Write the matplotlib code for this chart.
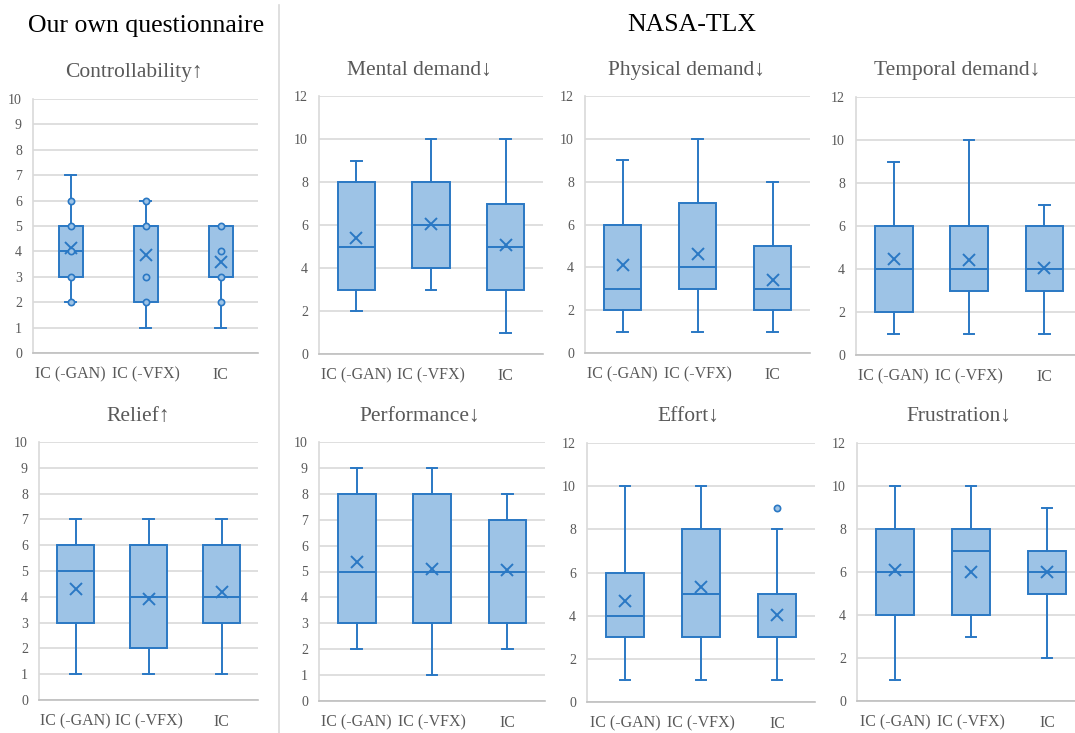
import matplotlib
matplotlib.use("Agg")
import matplotlib.pyplot as plt

plt.rcParams['font.family'] = ['Liberation Serif', 'DejaVu Serif']

W, H = 1075, 733

groups = ["IC (-GAN)", "IC (-VFX)", "IC"]

# one entry per panel: title, y max, y step
titles = ["Controllability\u2191", "Mental demand\u2193", "Physical demand\u2193", "Temporal demand\u2193",
          "Relief\u2191", "Performance\u2193", "Effort\u2193", "Frustration\u2193"]
ymax = [10, 12, 12, 12, 10, 10, 12, 12]
ystep = [1, 2, 2, 2, 1, 1, 2, 2]

# box stats per panel, per group (GAN, VFX, IC)
whislo = [[2, 1, 1], [2, 3, 1], [1, 1, 1], [1, 1, 1], [1, 1, 1], [2, 1, 2], [1, 1, 1], [1, 3, 2]]
q1 = [[3, 2, 3], [3, 4, 3], [2, 3, 2], [2, 3, 3], [3, 2, 3], [3, 3, 3], [3, 3, 3], [4, 4, 5]]
med = [[4, 5, 3], [5, 6, 5], [3, 4, 3], [4, 4, 4], [5, 4, 4], [5, 5, 5], [4, 5, 3], [6, 7, 6]]
q3 = [[5, 5, 5], [8, 8, 7], [6, 7, 5], [6, 6, 6], [6, 6, 6], [8, 8, 7], [6, 8, 5], [8, 8, 7]]
whishi = [[7, 6, 5], [9, 10, 10], [9, 10, 8], [9, 10, 7], [7, 7, 7], [9, 9, 8], [10, 10, 8], [10, 10, 9]]
means = [[4.15, 3.85, 3.6], [5.4, 6.05, 5.05], [4.1, 4.6, 3.4], [4.45, 4.4, 4.05],
         [4.3, 3.9, 4.2], [5.35, 5.1, 5.05], [4.7, 5.35, 4.05], [6.1, 6.0, 6.0]]
outliers = [[[], [], []], [[], [], []], [[], [], []], [[], [], []],
            [[], [], []], [[], [], []], [[], [], [9]], [[], [], []]]
# inner points only shown in the controllability chart
inner = [[[2, 3, 4, 5, 6], [2, 3, 5, 6], [2, 3, 4, 5]]] + [[[], [], []]] * 7

# axes rectangles in pixels: left, right, top, bottom
rects = [(33, 258, 99, 353), (319, 543, 96, 354), (585, 810, 96, 353), (856, 1082, 97, 355),
         (39, 258, 442, 700), (319, 545, 442, 701), (587, 815, 443, 702), (857, 1085, 443, 701)]
title_pos = [(134, 72), (419, 71), (686, 71), (957, 71), (138, 417), (420, 417), (688, 417), (959, 417)]
box_w = [0.32, 0.5, 0.5, 0.5, 0.5, 0.5, 0.5, 0.5]

fill = '#9DC3E6'
edge = '#2A78C4'
grey = '#595959'

fig = plt.figure(figsize=(W / 100, H / 100), dpi=100)

for i in range(8):
    l, r, t, b = rects[i]
    ax = fig.add_axes([l / W, 1 - b / H, (r - l) / W, (b - t) / H])
    stats = []
    for j in range(3):
        stats.append(dict(whislo=whislo[i][j], q1=q1[i][j], med=med[i][j], q3=q3[i][j],
                          whishi=whishi[i][j], mean=means[i][j], fliers=outliers[i][j]))
    ax.bxp(stats, positions=[1, 2, 3], widths=box_w[i], capwidths=0.14, patch_artist=True,
           showmeans=True,
           boxprops=dict(facecolor=fill, edgecolor=edge, linewidth=1.4),
           medianprops=dict(color=edge, linewidth=1.4),
           whiskerprops=dict(color=edge, linewidth=1.4),
           capprops=dict(color=edge, linewidth=1.4),
           meanprops=dict(marker='x', markeredgecolor=edge, markersize=9, markeredgewidth=1.4),
           flierprops=dict(marker='o', markerfacecolor=fill, markeredgecolor=edge, markersize=4.5,
                           markeredgewidth=1.2))
    for j in range(3):
        if inner[i][j]:
            ax.plot([j + 1] * len(inner[i][j]), inner[i][j], 'o', color=edge, markerfacecolor=fill,
                    markersize=4.5, markeredgewidth=1.2, zorder=5)
    ax.set_xlim(0.5, 3.5)
    ax.set_ylim(0, ymax[i])
    ax.set_yticks(range(0, ymax[i] + 1, ystep[i]))
    ax.set_xticks([1, 2, 3])
    ax.set_xticklabels(groups)
    ax.yaxis.grid(True, color='#D9D9D9', linewidth=1.2)
    ax.set_axisbelow(True)
    ax.tick_params(length=0, colors=grey)
    ax.tick_params(axis='x', pad=10, labelsize=11.5)
    ax.tick_params(axis='y', pad=8, labelsize=10)
    for s in ['top', 'right']:
        ax.spines[s].set_visible(False)
    ax.spines['left'].set_color('#D9D9D9')
    ax.spines['bottom'].set_color('#BFBFBF')
    ax.spines['left'].set_linewidth(1.2)
    ax.spines['bottom'].set_linewidth(1.2)
    tx, ty = title_pos[i]
    fig.text(tx / W, 1 - ty / H, titles[i], ha='center', va='center', fontsize=15.5, color=grey)

fig.text(146 / W, 1 - 26 / H, "Our own questionnaire", ha='center', va='center', fontsize=18.5, color='black')
fig.text(692 / W, 1 - 25 / H, "NASA-TLX", ha='center', va='center', fontsize=18.5, color='black')
fig.add_artist(plt.Line2D([279 / W, 279 / W], [0, 1 - 5 / H], color='#D9D9D9', linewidth=1.2))

fig.savefig("out.png", dpi=100)
